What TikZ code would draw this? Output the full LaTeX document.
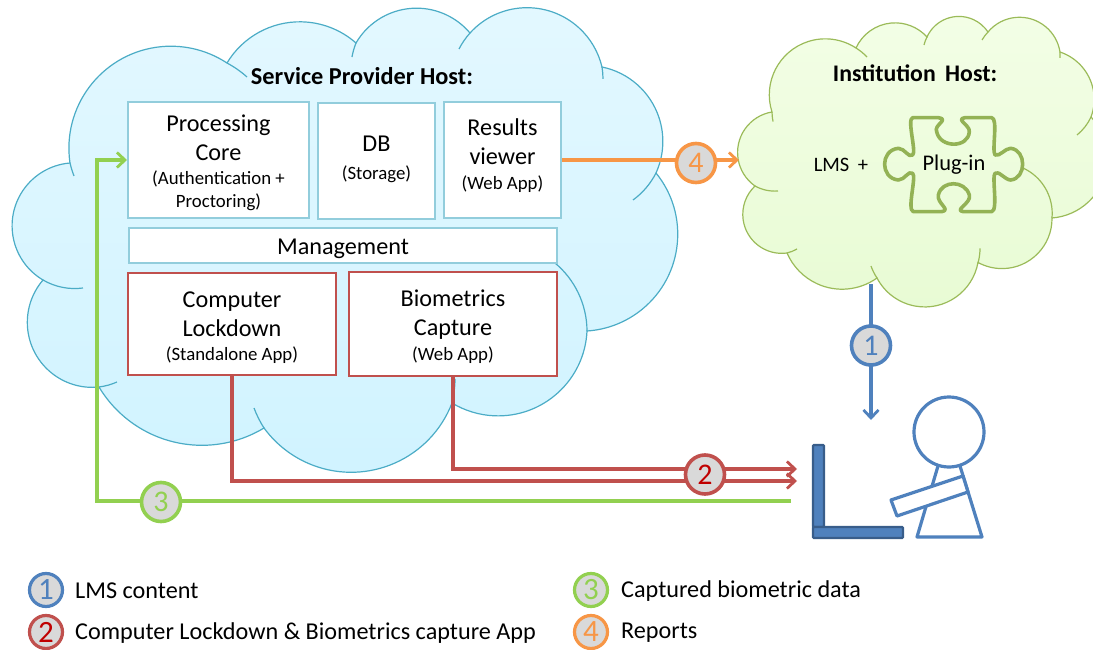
\documentclass[tikz,border=0pt]{standalone}
\usepackage{fontspec}
\setmainfont{Carlito}
\usetikzlibrary{svg.path,arrows.meta}
\definecolor{cbl}{HTML}{4BACC6}
\definecolor{cgr}{HTML}{9BBB59}
\definecolor{bxb}{HTML}{92CDDC}
\definecolor{bxr}{HTML}{C0504D}
\definecolor{lgr}{HTML}{92D050}
\definecolor{lbl}{HTML}{4F81BD}
\definecolor{ldb}{HTML}{385D8A}
\definecolor{lor}{HTML}{F79646}
\definecolor{dred}{HTML}{C00000}
\definecolor{disc}{HTML}{D9D9D9}
\newcommand\bigf{\fontsize{24.2}{23}\selectfont}
\newcommand\smf{\fontsize{18.8}{23}\selectfont}
\newcommand\inbox[3]{\raisebox{#1}[0pt][0pt]{\parbox[c]{#2}{\centering #3\par}}}
\tikzset{
 hostone/.style={draw=cbl,line width=1.2pt,top color=cloudtop,bottom color=cloudbot,yscale=-1},
 hosttwo/.style={draw=cgr,line width=1.2pt,top color=cloudtopg,bottom color=cloudbotg,yscale=-1},
 tailone/.style={draw=cbl,line width=1.2pt,yscale=-1},
 tailtwo/.style={draw=cgr,line width=1.2pt,yscale=-1},
 bluebox/.style={draw=bxb,fill=white,line width=2pt,inner sep=0pt},
 redbox/.style={draw=bxr,fill=white,line width=2pt,inner sep=0pt},
 conn/.style={line width=3.2pt,-{Straight Barb[length=8pt,width=15pt,line width=2.8pt]}},
 badge/.style={circle,fill=disc,line width=3.6pt,minimum size=39pt,inner sep=0pt,font=\fontsize{30}{30}\selectfont},
 legendbadge/.style={circle,fill=disc,line width=3.2pt,minimum size=33pt,inner sep=0pt,font=\fontsize{31}{31}\selectfont},
 legendtext/.style={anchor=west,inner sep=0pt,font=\fontsize{24.2}{26}\selectfont},
 person/.style={draw=lbl,line width=3.2pt,line join=round},
 laptop/.style={draw=ldb,fill=lbl,line width=2.4pt,rounded corners=1pt},
}
\definecolor{cloudtop}{HTML}{E3F8FF}
\definecolor{cloudbot}{HTML}{D0F3FF}
\definecolor{cloudtopg}{HTML}{F3FEE6}
\definecolor{cloudbotg}{HTML}{E8FBD4}
\begin{document}
\begin{tikzpicture}[x=1pt,y=-1pt]
\path[use as bounding box] (0,0) rectangle (1093,650);
% service provider cloud
\path[hostone] svg "M 43 280 A 63 63 0 0 1 70 163 A 102 102 0 0 1 227 63 A 85 85 0 0 1 356 43 A 70 70 0 0 1 470 33 A 77 77 0 0 1 602 67 A 76 76 0 0 1 656 173 A 97 97 0 0 1 587 331 A 89 89 0 0 1 452 403 A 108 108 0 0 1 264 428 A 120 120 0 0 1 99 387 A 65 65 0 0 1 43 280 Z";
\path[tailone] svg "M 43 280 A 63 63 0 0 0 83 288 M 70 163 A 102 102 0 0 0 74 176 M 227 63 A 102 102 0 0 1 247 77 M 356 43 A 70 70 0 0 0 352 57 M 470 33 A 77 77 0 0 0 459 49 M 602 67 A 77 77 0 0 1 603 78 M 656 173 A 76 76 0 0 1 633 200 M 587 331 A 89 89 0 0 0 554 263 M 452 403 A 108 108 0 0 0 455 380 M 264 428 A 108 108 0 0 1 254 408 M 99 387 A 65 65 0 0 0 117 382";
% institution cloud
\path[hosttwo] svg "M 755 186 A 41 41 0 0 1 772 112 A 56 56 0 0 1 856 48 A 43 43 0 0 1 927 37 A 35 35 0 0 1 988 32 A 41 41 0 0 1 1060 52 A 50 50 0 0 1 1091 117 A 60 60 0 0 1 1052 218 A 50 50 0 0 1 978 263 A 54 54 0 0 1 877 278 A 60 60 0 0 1 787 253 A 39 39 0 0 1 755 186 Z";
\path[tailtwo] svg "M 755 186 A 41 41 0 0 0 778 191 M 772 112 A 56 56 0 0 0 773 121 M 856 48 A 56 56 0 0 1 867 57 M 927 37 A 35 35 0 0 0 924 45 M 988 32 A 41 41 0 0 0 982 40 M 1060 52 A 50 50 0 0 1 1060 58 M 1091 117 A 50 50 0 0 1 1077 135 M 1052 218 A 50 50 0 0 0 1023 168 M 978 263 A 54 54 0 0 0 980 248 M 877 278 A 54 54 0 0 1 871 266 M 787 253 A 39 39 0 0 0 797 249";
% boxes
\node[bluebox,minimum width=181pt,minimum height=116pt] (core) at (218.5,160) {\inbox{-5.5pt}{178pt}{\bigf Processing\\[6pt]Core\\[1pt]\smf (Authentication +\\Proctoring)}};
\node[bluebox,minimum width=117pt,minimum height=116pt] (db) at (376.5,161) {\inbox{-0.5pt}{114pt}{\bigf DB\\[5pt]\smf (Storage)}};
\node[bluebox,minimum width=117pt,minimum height=116pt] (results) at (502.5,160) {\inbox{2pt}{114pt}{\bigf Results\\[6pt]viewer\\[2pt]\smf (Web App)}};
\node[bluebox,minimum width=428pt,minimum height=35pt] (mgmt) at (343,245.5) {\inbox{-5.5pt}{420pt}{\bigf Management}};
\node[redbox,minimum width=208pt,minimum height=102pt] (lock) at (232,324) {\inbox{-6.5pt}{204pt}{\bigf Computer\\[6pt]Lockdown\\[1pt]\smf (Standalone App)}};
\node[redbox,minimum width=208pt,minimum height=104pt] (bio) at (453,324) {\inbox{-5pt}{204pt}{\bigf Biometrics\\[6pt]Capture\\[2pt]\smf (Web App)}};
% titles
\node[inner sep=0pt,font=\bfseries\fontsize{24.3}{26}\selectfont] (sptitle) at (362,76) {Service Provider Host:};
\node[inner sep=0pt,font=\bfseries\fontsize{23.8}{26}\selectfont] (insttitle) at (915,73) {Institution\hspace{4pt} Host:};
\node[inner sep=0pt,font=\fontsize{20.5}{22}\selectfont] (lmsplus) at (841,165) {LMS\hspace{4pt} +};
% plug-in
\draw[cgr!95!black,line width=3.6pt,line join=round,shift={(720,0)},x=1/3*1pt,y=-1/3*1pt]
 (578,353) -- (655,353) .. controls (690,358) and (640,375) .. (650,395)
 .. controls (660,445) and (745,445) .. (748,395) .. controls (750,375) and (705,358) .. (735,353)
 -- (815,353) .. controls (835,355) and (815,450) .. (825,465) .. controls (840,470) and (855,445) .. (872,445)
 .. controls (920,450) and (920,535) .. (872,540) .. controls (855,540) and (835,510) .. (825,520)
 .. controls (815,530) and (835,632) .. (815,635) -- (730,635) .. controls (700,630) and (755,610) .. (748,585)
 .. controls (735,540) and (665,540) .. (655,585) .. controls (650,610) and (695,630) .. (665,635)
 -- (580,635) .. controls (560,630) and (590,530) .. (578,520) .. controls (565,510) and (555,540) .. (535,540)
 .. controls (480,535) and (480,450) .. (535,445) .. controls (555,445) and (565,475) .. (578,465)
 .. controls (590,455) and (560,358) .. (578,353) -- cycle;
\node[inner sep=0pt,font=\fontsize{22.4}{24}\selectfont] (plugin) at (954,165) {Plug-in};
% person and laptop
\draw[person] (938,466) -- (917,537) -- (982,537) -- (960,466);
\node[circle,draw=lbl,line width=3.2pt,fill=white,minimum size=70pt,inner sep=0pt] (head) at (949,432) {};
\draw[person,fill=white] (891,500) -- (963,476) -- (968,492) -- (897,516) -- cycle;
\draw[laptop] (813,445) rectangle (824,527);
\draw[laptop] (813,527) rectangle (903,538);
% free ends
\coordinate (blueStart) at (871,284);
\coordinate (blueEnd) at (871,420);
\coordinate (lockEnd) at (797,481);
\coordinate (bioEnd) at (797,469);
\coordinate (greenStart) at (791,501);
\coordinate (orangeEnd) at (739,160);
% connectors
\draw[conn,lbl] (blueStart) -- (blueEnd);
\draw[conn,bxr] (lock.south) |- (lockEnd);
\draw[conn,bxr] (bio.south) |- (bioEnd);
\draw[conn,lgr] (greenStart) -| (97,160) -- (core.west);
\draw[conn,lor] (results.east) -- (orangeEnd);
% badges
\node[badge,draw=lbl,text=lbl] (b1) at (871,345.5) {1};
\node[badge,draw=bxr,text=dred] (b2) at (705,474.5) {2};
\node[badge,draw=lgr,text=lgr] (b3) at (161,502) {3};
\node[badge,draw=lor,text=lor] (b4) at (696,163) {4};
% legend
\node[legendbadge,draw=lbl,text=lbl] (l1) at (46,590) {1};
\node[legendbadge,draw=bxr,text=dred] (l2) at (46,632) {2};
\node[legendbadge,draw=lgr,text=lgr] (l3) at (591,590) {3};
\node[legendbadge,draw=lor,text=lor] (l4) at (591,632) {4};
\node[legendtext] (t1) at (75,591) {LMS content};
\node[legendtext] (t2) at (75,633) {Computer Lockdown \& Biometrics capture App};
\node[legendtext] (t3) at (621,591) {Captured biometric data};
\node[legendtext] (t4) at (621,633) {Reports};
\end{tikzpicture}
\end{document}
